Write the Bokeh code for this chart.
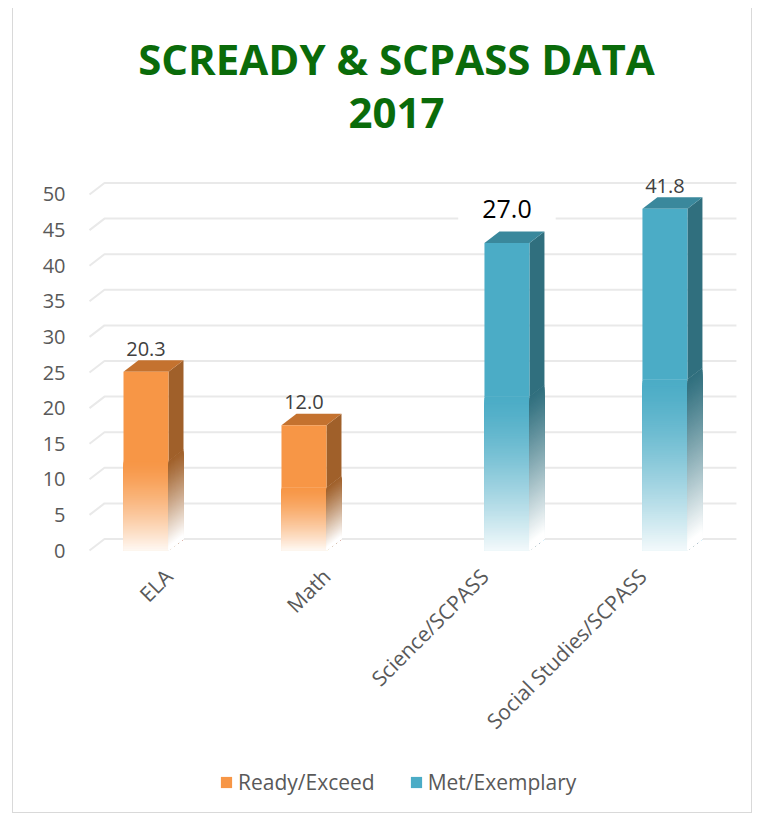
import numpy as np
from bokeh.plotting import figure
from bokeh.models import (Range1d, FixedTicker, Legend, LegendItem, Label,
                          LabelSet, ColumnDataSource)
from bokeh.core.properties import value
from bokeh.embed import file_html
from bokeh.resources import INLINE

# ---------------- data ----------------
categories = ["ELA", "Math", "Science/SCPASS", "Social Studies/SCPASS"]
series_names = ["Ready/Exceed", "Met/Exemplary"]
bar_series = [0, 0, 1, 1]
bar_heights = [25.1, 17.6, 43.2, 48.0]
label_texts = ["20.3", "12.0", "27.0", "41.8"]
y_ticks = [0, 5, 10, 15, 20, 25, 30, 35, 40, 45, 50]
title_lines = ["SCREADY & SCPASS DATA", "2017"]

# ---------------- style / layout ----------------
FRONT = ["#F79646", "#4BACC6"]
TOP = ["#C4722F", "#3A889C"]
SIDE = ["#A0602A", "#306F7E"]
FONT = "Open Sans"
TEXT_GRAY = "#595959"
GRID = "#e9e9e9"
TITLE_GREEN = "#0a6b0a"
HIGHLIGHT = 2              # index of the boxed data label

PX_X, PX_Y = 158.0, 7.12   # pixels per unit
BAR_W = 45 / PX_X
SLOT = 22.5 / PX_X
DX = 15 / PX_X
DY = 11.5 / PX_Y
FADE = 0.5
N_SL = 90
TITLE_X = 1.443
TITLE_Y = [69.1, 61.4]


def blend(c, t):
    rgb = [int(c[i:i + 2], 16) for i in (1, 3, 5)]
    return "#%02x%02x%02x" % tuple(int(round(v + (255 - v) * t)) for v in rgb)


n = len(categories)
xc = [i + (SLOT if bar_series[i] == 1 else -SLOT) for i in range(n)]

p = figure(frame_width=652, frame_height=797,
           x_range=Range1d(-0.519, 3.608), y_range=Range1d(-35.81, 76.12),
           min_border_left=73, min_border_right=13, min_border_top=0,
           min_border_bottom=7, output_backend="svg", toolbar_location=None,
           background_fill_color="white", border_fill_color="white")
p.margin = (8, 0, 0, 12)
p.styles = {"border-left": "1px solid #d9d9d9", "border-right": "1px solid #d9d9d9",
            "border-bottom": "1px solid #d9d9d9"}
p.outline_line_color = None
p.xgrid.visible = False
p.ygrid.visible = False

# gridlines with 3D slant
gx = [[-0.5, -0.5 + DX, n - 0.5 + DX] for _ in y_ticks]
gy = [[v, v + DY, v + DY] for v in y_ticks]
p.multi_line(gx, gy, line_color=GRID, line_width=2)

# bars: solid upper part, faded lower part built from nested slices
solid = {0: dict(left=[], right=[], bottom=[], top=[]), 1: dict(left=[], right=[], bottom=[], top=[])}
fl, fr, fb, ft, fc = [], [], [], [], []
sxs, sys_, scol = [], [], []
for i in range(n):
    s = bar_series[i]
    v = bar_heights[i]
    l, r = xc[i] - BAR_W / 2, xc[i] + BAR_W / 2
    hf = FADE * v
    solid[s]["left"].append(l); solid[s]["right"].append(r)
    solid[s]["bottom"].append(hf); solid[s]["top"].append(v)
    sxs.append([r, r + DX, r + DX, r]); sys_.append([hf, hf + DY, v + DY, v]); scol.append(SIDE[s])
    sxs.append([l, l + DX, r + DX, r]); sys_.append([v, v + DY, v + DY, v]); scol.append(TOP[s])
    for k in range(N_SL):
        t = hf * (N_SL - k) / N_SL + 0.05
        frac = (k + 0.5) / N_SL
        fl.append(l); fr.append(r); fb.append(0); ft.append(t)
        fc.append(blend(FRONT[s], 0.93 * frac ** 1.35))
        sxs.append([r, r + DX, r + DX, r]); sys_.append([0, DY, t + DY, t])
        scol.append(blend(SIDE[s], min(1.0, 1.05 * frac ** 1.15)))

p.quad(left=fl, right=fr, bottom=fb, top=ft, fill_color=fc, line_color=None)
p.patches(sxs, sys_, fill_color=scol, line_color=None)
rends = []
for s in (0, 1):
    rends.append(p.quad(source=ColumnDataSource(solid[s]), left="left", right="right",
                        bottom="bottom", top="top", fill_color=FRONT[s], line_color=None))

# data labels
norm = [i for i in range(n) if i != HIGHLIGHT]
lab_src = ColumnDataSource(dict(x=[xc[i] for i in norm],
                                y=[bar_heights[i] + DY + 0.6 for i in norm],
                                text=[label_texts[i] for i in norm]))
p.add_layout(LabelSet(x="x", y="y", text="text", source=lab_src, text_align="center",
                      text_baseline="alphabetic", text_font=value(FONT),
                      text_font_size="20px", text_color="#404040"))
p.add_layout(Label(x=xc[HIGHLIGHT], y=bar_heights[HIGHLIGHT] + 4.8,
                   text=label_texts[HIGHLIGHT], text_align="center",
                   text_baseline="alphabetic", text_font=FONT, text_font_size="25px",
                   text_color="black", background_fill_color="white",
                   padding=dict(left=24, right=24, top=4, bottom=3)))

# axes
p.yaxis.ticker = FixedTicker(ticks=y_ticks)
p.yaxis.axis_line_color = None
p.yaxis.major_tick_line_color = None
p.yaxis.minor_tick_line_color = None
p.yaxis.major_label_standoff = 15
p.yaxis.major_label_text_font = FONT
p.yaxis.major_label_text_font_size = "20px"
p.yaxis.major_label_text_color = TEXT_GRAY

p.xaxis.fixed_location = 0
p.xaxis.ticker = FixedTicker(ticks=list(range(n)))
p.xaxis.major_label_overrides = {i: c for i, c in enumerate(categories)}
p.xaxis.major_label_orientation = np.pi / 4
p.xaxis.axis_line_color = None
p.xaxis.major_tick_line_color = None
p.xaxis.minor_tick_line_color = None
p.xaxis.major_label_standoff = 16
p.xaxis.major_label_text_font = FONT
p.xaxis.major_label_text_font_size = "21px"
p.xaxis.major_label_text_color = TEXT_GRAY

# legend at the bottom of the (white) frame
legend = Legend(items=[LegendItem(label=series_names[s], renderers=[rends[s]]) for s in (0, 1)],
                orientation="horizontal", location=(133, 9), border_line_color=None,
                background_fill_alpha=0, label_text_font=FONT, label_text_font_size="21px",
                label_text_color=TEXT_GRAY, glyph_width=14, glyph_height=14,
                label_standoff=5, spacing=34, padding=0, margin=0)
p.add_layout(legend, "center")

# title
for j, txt in enumerate(title_lines):
    p.add_layout(Label(x=TITLE_X, y=TITLE_Y[j], text=txt, text_align="center",
                       text_baseline="middle", text_font=FONT, text_font_style="bold",
                       text_font_size="42px", text_color=TITLE_GREEN))

open("out.html", "w").write(file_html(p, INLINE))
